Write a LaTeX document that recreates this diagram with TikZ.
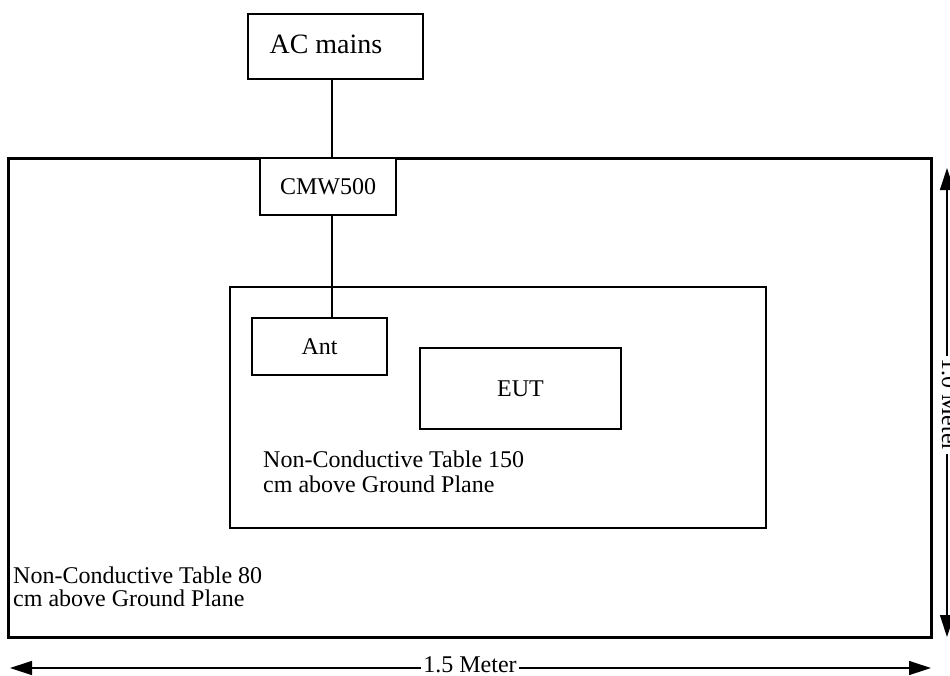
\documentclass[tikz,border=0pt]{standalone}
\usepackage{fontspec}
\setmainfont{Liberation Serif}
\usetikzlibrary{arrows.meta}
\begin{document}
\begin{tikzpicture}[x=1pt,y=-1pt,
  box/.style={draw,line width=1.3pt,inner sep=0pt,font=\fontsize{24}{26}\selectfont},
  conn/.style={line width=1.3pt},
  txt/.style={inner sep=0pt,anchor=base west,font=\fontsize{24}{26}\selectfont},
  dim/.style={line width=1.3pt,{Triangle[length=22pt,width=14pt]}-{Triangle[length=22pt,width=14pt]}},
  dimlbl/.style={fill=white,inner xsep=2pt,inner ysep=0pt,font=\fontsize{24}{26}\selectfont}]
\useasboundingbox (0,0) rectangle (950,675);
% outer table
\node[draw,line width=3pt,minimum width=923pt,minimum height=479pt,inner sep=0pt] (outer) at (469.5,397.5) {};
% inner table
\node[draw,line width=1.3pt,minimum width=536pt,minimum height=241pt,inner sep=0pt] (inner) at (498,407.5) {};
% boxes
\node[box,minimum width=175pt,minimum height=65pt,
  label={[inner sep=0pt,anchor=base west,xshift=22pt,yshift=26pt,font=\fontsize{28}{30}\selectfont]south west:AC mains}] (ac) at (335.5,46.5) {};
\node[box,fill=white,minimum width=136pt,minimum height=57pt] (cmw) at (328,186.5) {CMW500};
\node[box,minimum width=135pt,minimum height=57pt] (ant) at (319.5,346.5) {Ant};
\node[box,minimum width=201pt,minimum height=81pt] (eut) at (520.5,388.5) {EUT};
% connectors
\coordinate (lx) at (332,0);
\draw[conn] (ac.south -| lx) -- (cmw.north -| lx);
\draw[conn] (cmw.south -| lx) -- (ant.north -| lx);
% texts
\node[txt] (t150a) at (263,467) {Non-Conductive Table 150};
\node[txt] (t150b) at (263,492) {cm above Ground Plane};
\node[txt] (t80a) at (13,583) {Non-Conductive Table 80};
\node[txt] (t80b) at (13,606) {cm above Ground Plane};
% dimensions
\coordinate (hl) at (10,668);
\coordinate (hr) at (931,668);
\draw[dim] (hl) -- (hr);
\node[dimlbl,anchor=base] (hlbl) at (470,672) {1.5 Meter};
\coordinate (vt) at (947,168);
\coordinate (vb) at (947,637);
\draw[dim] (vt) -- (vb);
\node[dimlbl,rotate=-90] (vlbl) at (950,405) {1.0 Meter};
\end{tikzpicture}
\end{document}
